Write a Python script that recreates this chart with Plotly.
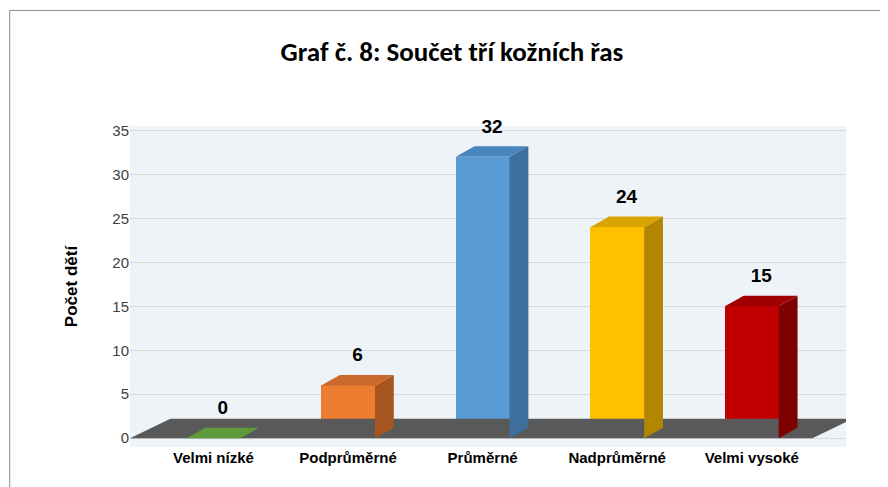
import plotly.graph_objects as go

# data
categories = ["Velmi nízké", "Podprůměrné", "Průměrné", "Nadprůměrné", "Velmi vysoké"]
values = [0, 6, 32, 24, 15]
front_colors = ["#70AD47", "#ED7D31", "#5B9BD5", "#FFC000", "#C00000"]
side_colors = ["#4E7A31", "#A85620", "#3E6E9C", "#B38600", "#7F0000"]
top_colors = ["#5E9A38", "#C9692A", "#4A84BD", "#D9A300", "#A00000"]

w = 0.4     # bar width
dx = 0.14   # depth offset in x
dy = 1.2    # depth offset in y

fig = go.Figure()

# floor
n = len(categories)
fig.add_trace(go.Scatter(
    x=[-0.62, n - 0.55, n - 0.55 + 0.3, -0.32, -0.62],
    y=[0, 0, 2.2, 2.2, 0], fill="toself", fillcolor="#595959",
    line=dict(width=0), mode="lines", hoverinfo="skip", showlegend=False))

for i, v in enumerate(values):
    xl, xr = i - w / 2, i + w / 2
    # side face
    fig.add_trace(go.Scatter(
        x=[xr, xr + dx, xr + dx, xr, xr], y=[0, dy, v + dy, v, 0],
        fill="toself", fillcolor=side_colors[i], line=dict(width=0),
        mode="lines", hoverinfo="skip", showlegend=False))
    # top face
    fig.add_trace(go.Scatter(
        x=[xl, xr, xr + dx, xl + dx, xl], y=[v, v, v + dy, v + dy, v],
        fill="toself", fillcolor=top_colors[i], line=dict(width=0),
        mode="lines", hoverinfo="skip", showlegend=False))

fig.add_trace(go.Bar(
    x=list(range(n)), y=values, width=w, marker=dict(color=front_colors, line=dict(width=0)),
    showlegend=False))

fig.add_trace(go.Scatter(
    x=[i + dx / 2 for i in range(n)], y=[v + dy + 1.0 for v in values],
    text=["<b>%d</b>" % v for v in values], mode="text", textposition="top center",
    textfont=dict(family="Arial", size=19, color="black"), showlegend=False,
    hoverinfo="skip", cliponaxis=False))

fig.update_layout(
    width=888, height=487,
    paper_bgcolor="white", plot_bgcolor="#EEF3F8",
    margin=dict(l=122, r=50, t=118, b=48),
    title=dict(text="<b>Graf č. 8: Součet tří kožních řas</b>", x=0.5, y=0.93,
               xanchor="center", font=dict(family="Calibri, Carlito, Liberation Sans", size=27, color="black")),
    bargap=0,
    font=dict(family="Arial", color="#404040"),
)
fig.update_xaxes(range=[-0.62, n - 0.3], tickvals=list(range(n)),
                 ticktext=["<b>%s</b>" % c for c in categories],
                 tickfont=dict(size=15, color="black"), showgrid=False, zeroline=False, ticks="")
fig.update_yaxes(range=[-1, 35.5], tickvals=[0, 5, 10, 15, 20, 25, 30, 35],
                 tickfont=dict(size=15, color="#404040"), gridcolor="#D9D9D9",
                 zeroline=False, ticks="", ticklen=0,
                 title=dict(text="<b>Počet dětí</b>", font=dict(size=17, color="black"), standoff=30))
fig.add_shape(type="rect", xref="paper", yref="paper", x0=-0.168, x1=1.068, y0=-0.145, y1=1.36,
              line=dict(color="#8C8C8C", width=1))

fig.write_html("out.html")
